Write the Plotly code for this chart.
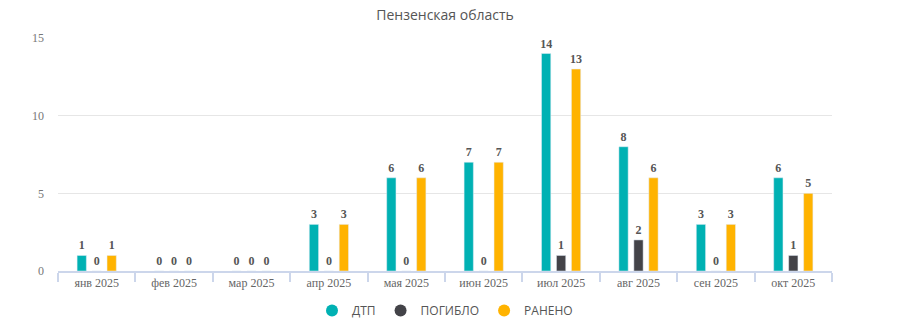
import plotly.graph_objects as go

months = ["янв 2025", "фев 2025", "мар 2025", "апр 2025", "мая 2025",
          "июн 2025", "июл 2025", "авг 2025", "сен 2025", "окт 2025"]
dtp = [1, 0, 0, 3, 6, 7, 14, 8, 3, 6]
killed = [0, 0, 0, 0, 0, 0, 1, 2, 0, 1]
injured = [1, 0, 0, 3, 6, 7, 13, 6, 3, 5]

series = [
    ("ДТП", dtp, "#00b1b3"),
    ("ПОГИБЛО", killed, "#434348"),
    ("РАНЕНО", injured, "#ffb300"),
]

fig = go.Figure()
for name, vals, color in series:
    fig.add_trace(go.Bar(
        x=months, y=vals, name=name, marker_color=color,
        text=[str(v) for v in vals], textposition="outside",
        constraintext="none",
        textfont=dict(family="Liberation Serif", size=12, color="#555555", weight="bold"),
        cliponaxis=False, showlegend=False, hoverinfo="skip",
    ))
# circular legend markers
for name, vals, color in series:
    fig.add_trace(go.Scatter(
        x=[None], y=[None], mode="markers", name=name,
        marker=dict(symbol="circle", size=13, color=color),
    ))

fig.update_layout(
    width=900, height=331,
    margin=dict(l=58, r=68, t=38, b=60, autoexpand=False),
    paper_bgcolor="white", plot_bgcolor="white",
    barmode="group", bargap=0.42, bargroupgap=0.38,
    title=dict(text="Пензенская область", x=0.4945, xanchor="center", y=0.955, yanchor="middle",
               font=dict(family="Open Sans", size=14, color="#555555")),
    legend=dict(orientation="h", x=0.5, xanchor="center", y=-0.17, yanchor="middle",
                font=dict(family="Open Sans", size=12, color="#555555"),
                itemsizing="constant", tracegroupgap=0),
)
fig.update_xaxes(
    type="category", showgrid=False, showline=True, linecolor="#ccd6eb", linewidth=2,
    ticks="outside", tickson="boundaries", ticklen=9, tickcolor="#ccd6eb", tickwidth=2,
    tickfont=dict(family="Liberation Serif", size=12, color="#666666"), automargin=False,
)
fig.update_yaxes(
    range=[0, 15], tickvals=[0, 5, 10, 15], showgrid=True, gridcolor="#e6e6e6",
    zeroline=False, showline=False, ticks="", ticklabelstandoff=13,
    tickfont=dict(family="Liberation Serif", size=12, color="#777777"), automargin=False,
)
fig.write_html("out.html")
